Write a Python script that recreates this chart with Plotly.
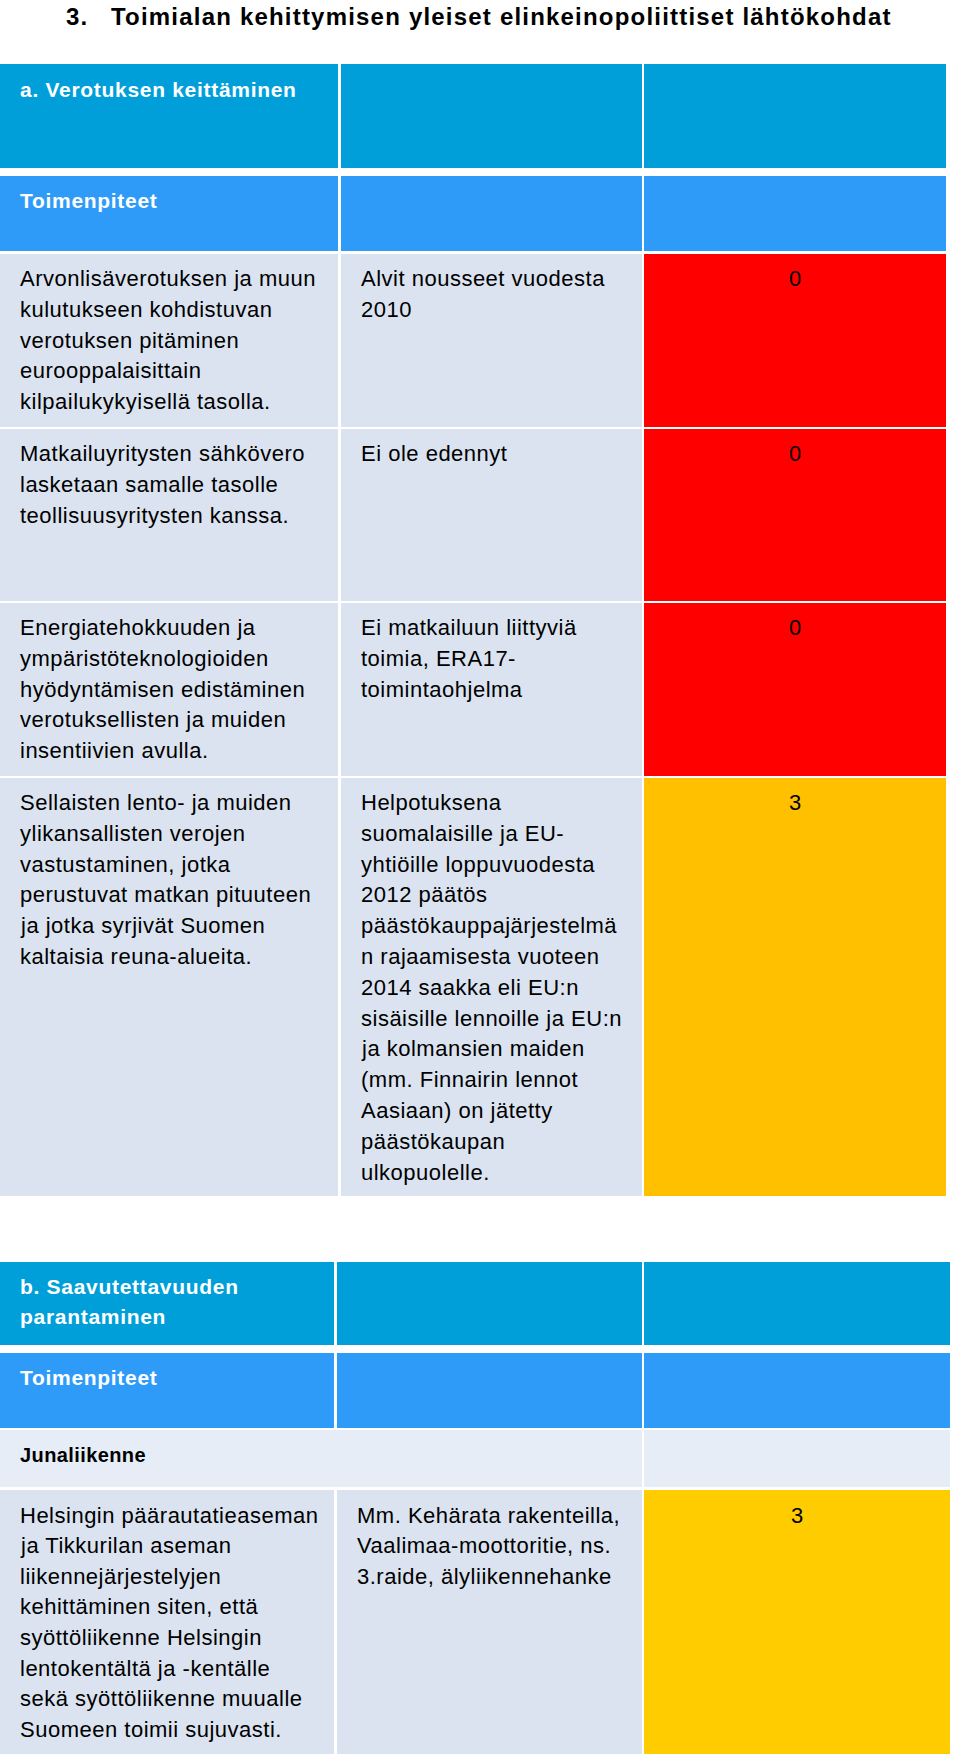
import plotly.graph_objects as go

# --- data ---
title_num = "3."
title_text = "Toimialan kehittymisen yleiset elinkeinopoliittiset lähtökohdat"

a_heading = "a. Verotuksen keittäminen"
a_subheading = "Toimenpiteet"
a_measures = [
    "Arvonlisäverotuksen ja muun<br>kulutukseen kohdistuvan<br>verotuksen pitäminen<br>eurooppalaisittain<br>kilpailukykyisellä tasolla.",
    "Matkailuyritysten sähkövero<br>lasketaan samalle tasolle<br>teollisuusyritysten kanssa.",
    "Energiatehokkuuden ja<br>ympäristöteknologioiden<br>hyödyntämisen edistäminen<br>verotuksellisten ja muiden<br>insentiivien avulla.",
    "Sellaisten lento- ja muiden<br>ylikansallisten verojen<br>vastustaminen, jotka<br>perustuvat matkan pituuteen<br>ja jotka syrjivät Suomen<br>kaltaisia reuna-alueita.",
]
a_status = [
    "Alvit nousseet vuodesta<br>2010",
    "Ei ole edennyt",
    "Ei matkailuun liittyviä<br>toimia, ERA17-<br>toimintaohjelma",
    "Helpotuksena<br>suomalaisille ja EU-<br>yhtiöille loppuvuodesta<br>2012 päätös<br>päästökauppajärjestelmä<br>n rajaamisesta vuoteen<br>2014 saakka eli EU:n<br>sisäisille lennoille ja EU:n<br>ja kolmansien maiden<br>(mm. Finnairin lennot<br>Aasiaan) on jätetty<br>päästökaupan<br>ulkopuolelle.",
]
a_scores = [0, 0, 0, 3]

b_heading = "b. Saavutettavuuden<br>parantaminen"
b_subheading = "Toimenpiteet"
b_group = "Junaliikenne"
b_measures = [
    "Helsingin päärautatieaseman<br>ja Tikkurilan aseman<br>liikennejärjestelyjen<br>kehittäminen siten, että<br>syöttöliikenne Helsingin<br>lentokentältä ja -kentälle<br>sekä syöttöliikenne muualle<br>Suomeen toimii sujuvasti.",
]
b_status = [
    "Mm. Kehärata rakenteilla,<br>Vaalimaa-moottoritie, ns.<br>3.raide, älyliikennehanke",
]
b_scores = [3]

# --- layout / styles ---
W, H = 960, 1763
FONT = "Liberation Sans"
HEAD1 = "#009FDA"
HEAD2 = "#2F9BF9"
LIGHT = "#DAE3EF"
LIGHTER = "#E7EDF7"
a_score_colors = {0: "#FF0000", 3: "#FFC000"}
b_score_colors = {3: "#FFCC00"}

a_cols = [(0, 338), (341, 642), (644, 946)]
b_cols = [(0, 334), (337, 642), (644, 950)]
a_rows = [(64, 168), (176, 251), (254, 427), (429, 601), (603, 776), (778, 1196)]
b_rows = [(1262, 1345), (1353, 1428), (1430, 1487), (1490, 1754)]
LINE = 30.8
PAD = 18

fig = go.Figure()
shapes = []
annotations = []


def cell(x0, x1, y0, y1, color):
    shapes.append(dict(type="rect", xref="x", yref="y", x0=x0, x1=x1, y0=y0, y1=y1,
                       fillcolor=color, line=dict(width=0), layer="below"))


def text(x, y, s, size, color="black", bold=False, spacing=LINE, anchor="left", ls=0.5):
    for i, line in enumerate(s.split("<br>")):
        t = '<span style="letter-spacing:%spx">%s</span>' % (ls, line)
        if bold:
            t = "<b>%s</b>" % t
        annotations.append(dict(x=x, y=y + i * spacing, xref="x", yref="y",
                                text=t, showarrow=False, xanchor=anchor, yanchor="middle",
                                font=dict(family=FONT, size=size, color=color)))


# title
text(64, 16, title_num, 24, bold=True, ls=1.2)
text(109, 16, title_text, 24, bold=True, ls=1.2)

# table a
for x0, x1 in a_cols:
    cell(x0, x1, *a_rows[0], HEAD1)
    cell(x0, x1, *a_rows[1], HEAD2)
text(a_cols[0][0] + PAD, a_rows[0][0] + 25, a_heading, 21, "white", bold=True, ls=0.7)
text(a_cols[0][0] + PAD, a_rows[1][0] + 24, a_subheading, 21, "white", bold=True, ls=0.7)
for i, (m, s, sc) in enumerate(zip(a_measures, a_status, a_scores)):
    y0, y1 = a_rows[2 + i]
    cell(*a_cols[0], y0, y1, LIGHT)
    cell(*a_cols[1], y0, y1, LIGHT)
    cell(*a_cols[2], y0, y1, a_score_colors[sc])
    text(a_cols[0][0] + PAD, y0 + 24.5, m, 22)
    text(a_cols[1][0] + PAD, y0 + 24.5, s, 22)
    text((a_cols[2][0] + a_cols[2][1]) / 2, y0 + 24.5, str(sc), 22, anchor="center", ls=0)

# table b
for x0, x1 in b_cols:
    cell(x0, x1, *b_rows[0], HEAD1)
    cell(x0, x1, *b_rows[1], HEAD2)
text(b_cols[0][0] + PAD, b_rows[0][0] + 24.5, b_heading, 21, "white", bold=True, spacing=30, ls=0.7)
text(b_cols[0][0] + PAD, b_rows[1][0] + 24.5, b_subheading, 21, "white", bold=True, ls=0.7)
cell(b_cols[0][0], b_cols[1][1], *b_rows[2], LIGHTER)
cell(*b_cols[2], *b_rows[2], LIGHTER)
text(b_cols[0][0] + PAD, b_rows[2][0] + 25, b_group, 20, bold=True, ls=0.4)
for i, (m, s, sc) in enumerate(zip(b_measures, b_status, b_scores)):
    y0, y1 = b_rows[3 + i]
    cell(*b_cols[0], y0, y1, LIGHT)
    cell(*b_cols[1], y0, y1, LIGHT)
    cell(*b_cols[2], y0, y1, b_score_colors[sc])
    text(b_cols[0][0] + PAD, y0 + 25, m, 22, spacing=30.6)
    text(b_cols[1][0] + PAD, y0 + 25, s, 22, spacing=30.6)
    text((b_cols[2][0] + b_cols[2][1]) / 2, y0 + 25, str(sc), 22, anchor="center", ls=0)

fig.update_layout(
    width=W, height=H,
    margin=dict(l=0, r=0, t=0, b=0),
    paper_bgcolor="white", plot_bgcolor="white",
    xaxis=dict(range=[0, W], visible=False, fixedrange=True),
    yaxis=dict(range=[H, 0], visible=False, fixedrange=True),
    shapes=shapes, annotations=annotations,
    showlegend=False,
)
fig.write_html("out.html", config=dict(displayModeBar=False),
               post_script="document.body.style.margin='0';")
